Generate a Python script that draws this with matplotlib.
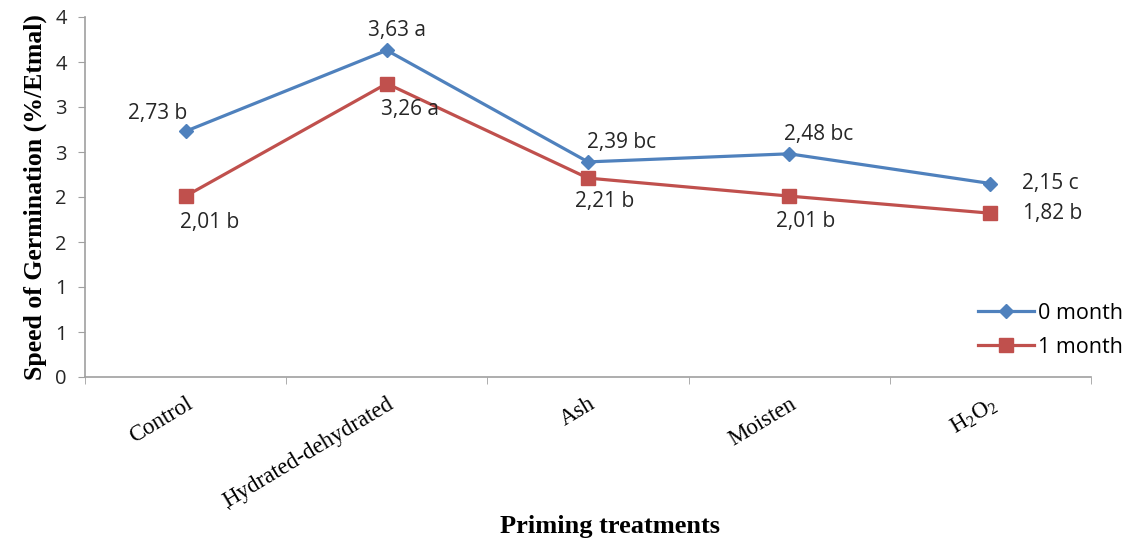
import matplotlib.pyplot as plt
from matplotlib.ticker import FuncFormatter, MultipleLocator
import numpy as np

treatments = ['Control', 'Hydrated-dehydrated', 'Ash', 'Moisten', 'H$_2$O$_2$']
month0 = [2.73, 3.63, 2.39, 2.48, 2.15]
month1 = [2.01, 3.26, 2.21, 2.01, 1.82]
month0Letters = ['b', 'a', 'bc', 'bc', 'c']
month1Letters = ['b', 'a', 'b', 'b', 'b']

# label offsets in points (dx, dy) for each data label
month0Offsets = [(-20, 13), (7, 14), (24, 14), (21, 14), (43, 0)]
month1Offsets = [(17, -19), (17, -19), (12, -17), (12, -18), (45, 0)]

blue = '#4F81BD'
red = '#C0504D'
sansFont = ['Open Sans', 'DejaVu Sans']
serifFont = ['Liberation Serif', 'DejaVu Serif']

plt.rcParams['mathtext.default'] = 'regular'

fig = plt.figure(figsize=(11.26, 5.45), dpi=100)
ax = fig.add_axes([85/1126, 1 - 377/545, (1091 - 85)/1126, (377 - 17)/545])

x = np.arange(len(treatments))
ax.plot(x, month0, '-D', color=blue, lw=2.3, ms=7.5, label='0 month')
ax.plot(x, month1, '-s', color=red, lw=2.3, ms=10.5, label='1 month')

def label(v, letter):
    return f'{v:.2f}'.replace('.', ',') + ' ' + letter

for i in range(len(x)):
    ax.annotate(label(month0[i], month0Letters[i]), (x[i], month0[i]),
                xytext=month0Offsets[i], textcoords='offset points',
                ha='center', va='center', fontsize=15, family=sansFont, color='#262626')
    ax.annotate(label(month1[i], month1Letters[i]), (x[i], month1[i]),
                xytext=month1Offsets[i], textcoords='offset points',
                ha='center', va='center', fontsize=15, family=sansFont, color='#262626')

ax.set_xlim(-0.5, len(x) - 0.5)
ax.set_ylim(0, 4)
ax.yaxis.set_major_locator(MultipleLocator(0.5))
# Excel-style integer format: half values get rounded up
ax.yaxis.set_major_formatter(FuncFormatter(lambda v, p: str(int(np.floor(v + 0.5)))))

ax.set_xticks(x)
ax.set_xticklabels(treatments, rotation=31, ha='right', rotation_mode='anchor',
                   family=serifFont, fontsize=16.5)
ax.tick_params(axis='x', length=0, pad=12)
ax.set_xticks(np.arange(-0.5, len(x)), minor=True)
ax.tick_params(axis='x', which='minor', length=5, color='#A0A0A0', direction='out')
ax.tick_params(axis='y', length=5, color='#A0A0A0', labelsize=14.5, pad=8)
for t in ax.get_yticklabels():
    t.set_family(sansFont)
    t.set_color('#262626')

for s in ['top', 'right']:
    ax.spines[s].set_visible(False)
for s in ['left', 'bottom']:
    ax.spines[s].set_color('#A0A0A0')
    ax.spines[s].set_linewidth(1.2)

ax.set_ylabel('Speed of Germination (%/Etmal)', family=serifFont, fontweight='bold',
              fontsize=18.5, labelpad=6)
fig.text(610/1126, 1 - 527/545, 'Priming treatments', family=serifFont, fontweight='bold',
         fontsize=19, ha='center', va='center')
fig.text(229/1126, 1 - 515/545, '`', family=serifFont, fontsize=13, ha='center', va='center')

ax.legend(loc='center left', bbox_to_anchor=(0.888, 0.13), frameon=False,
          prop={'family': sansFont, 'size': 15.5}, handlelength=2.6, handletextpad=0.15,
          labelspacing=0.6, borderpad=0, borderaxespad=0)

plt.savefig('out.png', dpi=100)
